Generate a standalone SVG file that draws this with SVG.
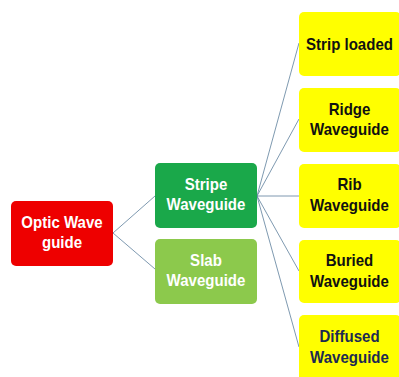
<svg xmlns="http://www.w3.org/2000/svg" width="399" height="377" viewBox="0 0 399 377">
<style>
.box{stroke:none}
.t{font-family:"Liberation Sans",Arial,sans-serif;font-weight:bold;font-size:16px;text-anchor:middle}
.w{fill:#ffffff}
.k{fill:#111111}
.n{fill:#1c2a52}
.c{fill:none;stroke:#5d7f9c;stroke-width:0.8}
</style>
<rect width="399" height="377" fill="#ffffff"/>
<g id="connectors">
<path class="c" d="M113,233 L155,196"/>
<path class="c" d="M113,233 L155,269"/>
<path class="c" d="M257,196 L299,43"/>
<path class="c" d="M257,196 L299,119"/>
<path class="c" d="M257,196 L299,196"/>
<path class="c" d="M257,196 L299,271"/>
<path class="c" d="M257,196 L299,347"/>
</g>
<g id="optic">
<rect class="box" x="11" y="201" width="102" height="65" rx="5" fill="#ee0000"/>
<text class="t w" transform="translate(62,228) scale(0.94,1)">Optic Wave</text>
<text class="t w" transform="translate(62,248) scale(0.94,1)">guide</text>
</g>
<g id="stripe">
<rect class="box" x="155" y="163" width="102" height="65" rx="5" fill="#1aa84a"/>
<text class="t w" transform="translate(206,190) scale(0.94,1)">Stripe</text>
<text class="t w" transform="translate(206,210) scale(0.94,1)">Waveguide</text>
</g>
<g id="slab">
<rect class="box" x="155" y="239" width="102" height="65" rx="5" fill="#8cc94c"/>
<text class="t w" transform="translate(206,266) scale(0.94,1)">Slab</text>
<text class="t w" transform="translate(206,286) scale(0.94,1)">Waveguide</text>
</g>
<g id="striploaded">
<rect class="box" x="299" y="12" width="102" height="64" rx="5" fill="#ffff00"/>
<text class="t k" transform="translate(349.5,50) scale(0.94,1)">Strip loaded</text>
</g>
<g id="ridge">
<rect class="box" x="299" y="88" width="102" height="64" rx="5" fill="#ffff00"/>
<text class="t k" transform="translate(349.5,115) scale(0.94,1)">Ridge</text>
<text class="t k" transform="translate(349.5,135) scale(0.94,1)">Waveguide</text>
</g>
<g id="rib">
<rect class="box" x="299" y="164" width="102" height="64" rx="5" fill="#ffff00"/>
<text class="t k" transform="translate(349.5,190) scale(0.94,1)">Rib</text>
<text class="t k" transform="translate(349.5,211) scale(0.94,1)">Waveguide</text>
</g>
<g id="buried">
<rect class="box" x="299" y="240" width="102" height="63" rx="5" fill="#ffff00"/>
<text class="t k" transform="translate(349.5,266) scale(0.94,1)">Buried</text>
<text class="t k" transform="translate(349.5,287) scale(0.94,1)">Waveguide</text>
</g>
<g id="diffused">
<rect class="box" x="299" y="315" width="102" height="66" rx="5" fill="#ffff00"/>
<text class="t n" transform="translate(349.5,342) scale(0.94,1)">Diffused</text>
<text class="t n" transform="translate(349.5,363) scale(0.94,1)">Waveguide</text>
</g>
</svg>
